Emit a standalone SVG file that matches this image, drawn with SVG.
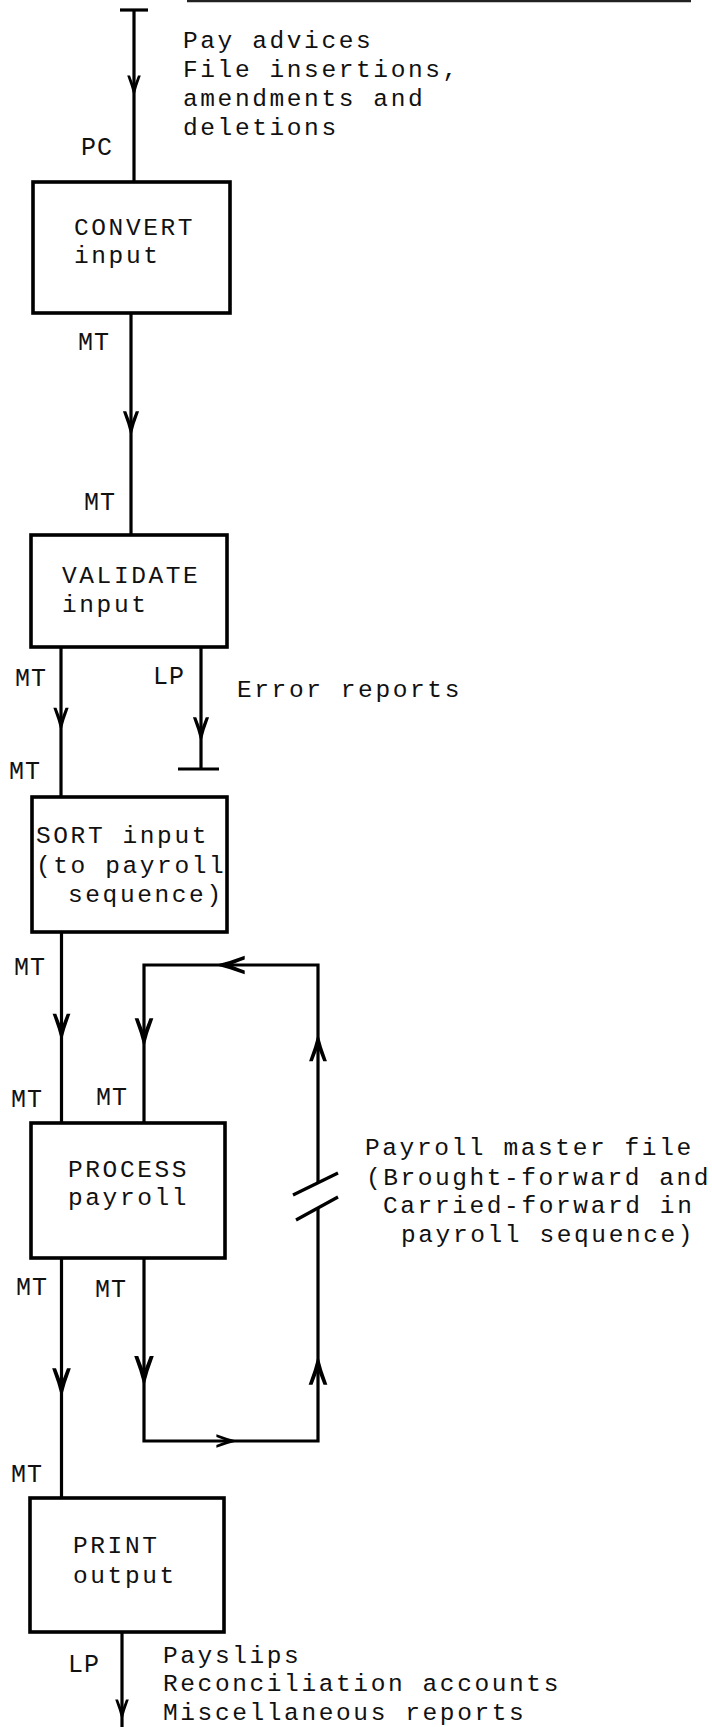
<svg xmlns="http://www.w3.org/2000/svg" xmlns:xlink="http://www.w3.org/1999/xlink" width="712" height="1727" viewBox="0 0 712 1727">
<style>
.box{fill:none;stroke:#000;stroke-width:3.6}
.ln{fill:none;stroke:#000;stroke-width:3.2}
.t{font-family:"Liberation Mono","Courier New",monospace;font-size:24.5px;letter-spacing:2.6px;fill:#111}
.lb{font-family:"Liberation Mono","Courier New",monospace;font-size:25px;letter-spacing:1px;fill:#111}
.ah{fill:#000}
</style>
<defs>
<path id="ah" d="M0,0 Q-3.5,-14 -8.5,-27 L-5,-27 Q-2,-19 0,-14 Q2,-19 5,-27 L8.5,-27 Q3.5,-14 0,0 Z"/>
</defs>
<rect width="712" height="1727" fill="#fff"/>
<line x1="187" y1="1" x2="691" y2="1" stroke="#222" stroke-width="2.5"/>

<g id="input-source">
<line class="ln" x1="120" y1="10" x2="148" y2="10" stroke-width="3.6"/>
<text class="t" x="183" y="48">Pay advices</text>
<text class="t" x="183" y="77">File insertions,</text>
<text class="t" x="183" y="106">amendments and</text>
<text class="t" x="183" y="135">deletions</text>
</g>

<g id="convert">
<rect class="box" x="33" y="182" width="197" height="131"/>
<text class="t" x="74" y="235">CONVERT</text>
<text class="t" x="74" y="263">input</text>
</g>

<g id="validate">
<rect class="box" x="31" y="535" width="196" height="112"/>
<text class="t" x="62" y="583">VALIDATE</text>
<text class="t" x="62" y="612">input</text>
</g>

<g id="error-reports">
<line class="ln" x1="178" y1="769" x2="219" y2="769" stroke-width="3.6"/>
<text class="t" x="237" y="697">Error reports</text>
</g>

<g id="sort">
<rect class="box" x="32" y="797" width="195" height="135"/>
<text class="t" x="36" y="843">SORT input</text>
<text class="t" x="36" y="873">(to payroll</text>
<text class="t" x="68" y="902">sequence)</text>
</g>

<g id="process">
<rect class="box" x="31" y="1123" width="194" height="135"/>
<text class="t" x="68" y="1177">PROCESS</text>
<text class="t" x="68" y="1205">payroll</text>
</g>

<g id="master-file">
<text class="t" x="365" y="1155">Payroll master file</text>
<text class="t" x="366" y="1185" textLength="345" lengthAdjust="spacing">(Brought-forward and</text>
<text class="t" x="383" y="1213">Carried-forward in</text>
<text class="t" x="401" y="1242">payroll sequence)</text>
</g>

<g id="print">
<rect class="box" x="30" y="1498" width="194" height="134"/>
<text class="t" x="73" y="1553">PRINT</text>
<text class="t" x="73" y="1583">output</text>
</g>

<g id="outputs">
<text class="t" x="163" y="1663">Payslips</text>
<text class="t" x="163" y="1691">Reconciliation accounts</text>
<text class="t" x="163" y="1720">Miscellaneous reports</text>
</g>

<g id="connectors">
<path class="ln" d="M134,10 V182"/>
<use href="#ah" class="ah" transform="translate(134,97) scale(0.8)"/>
<text class="lb" x="81" y="155">PC</text>

<path class="ln" d="M131,313 V535"/>
<use href="#ah" class="ah" transform="translate(131,437) scale(0.95)"/>
<text class="lb" x="78" y="350">MT</text>
<text class="lb" x="84" y="510">MT</text>

<path class="ln" d="M61,647 V797"/>
<use href="#ah" class="ah" transform="translate(61,732) scale(0.9)"/>
<text class="lb" x="15" y="686">MT</text>
<text class="lb" x="9" y="779">MT</text>

<path class="ln" d="M201,647 V769"/>
<use href="#ah" class="ah" transform="translate(201,743) scale(0.95)"/>
<text class="lb" x="153" y="684">LP</text>

<path class="ln" d="M61.5,932 V1123"/>
<use href="#ah" class="ah" transform="translate(61.5,1042) scale(1.05)"/>
<text class="lb" x="14" y="975">MT</text>
<text class="lb" x="11" y="1107">MT</text>

<path class="ln" d="M144,1123 V965 H318 V1183"/>
<path class="ln" d="M318,1208 V1441 H144 V1258"/>
<line class="ln" x1="293" y1="1195" x2="338" y2="1173"/>
<line class="ln" x1="296" y1="1220" x2="338" y2="1197"/>
<use href="#ah" class="ah" transform="translate(215,965) rotate(90) scale(1.1)"/>
<use href="#ah" class="ah" transform="translate(144,1048) scale(1.1)"/>
<use href="#ah" class="ah" transform="translate(318,1033) rotate(180) scale(1.05)"/>
<use href="#ah" class="ah" transform="translate(318,1355) rotate(180) scale(1.1)"/>
<use href="#ah" class="ah" transform="translate(238,1441) rotate(-90) scale(0.8)"/>
<use href="#ah" class="ah" transform="translate(144,1387) scale(1.15)"/>
<text class="lb" x="96" y="1105">MT</text>
<text class="lb" x="95" y="1297">MT</text>

<path class="ln" d="M61.5,1258 V1498"/>
<use href="#ah" class="ah" transform="translate(61.5,1398) scale(1.1)"/>
<text class="lb" x="16" y="1295">MT</text>
<text class="lb" x="11" y="1482">MT</text>

<path class="ln" d="M122,1632 V1727"/>
<use href="#ah" class="ah" transform="translate(122,1721) scale(0.8)"/>
<text class="lb" x="68" y="1672">LP</text>
</g>
</svg>
